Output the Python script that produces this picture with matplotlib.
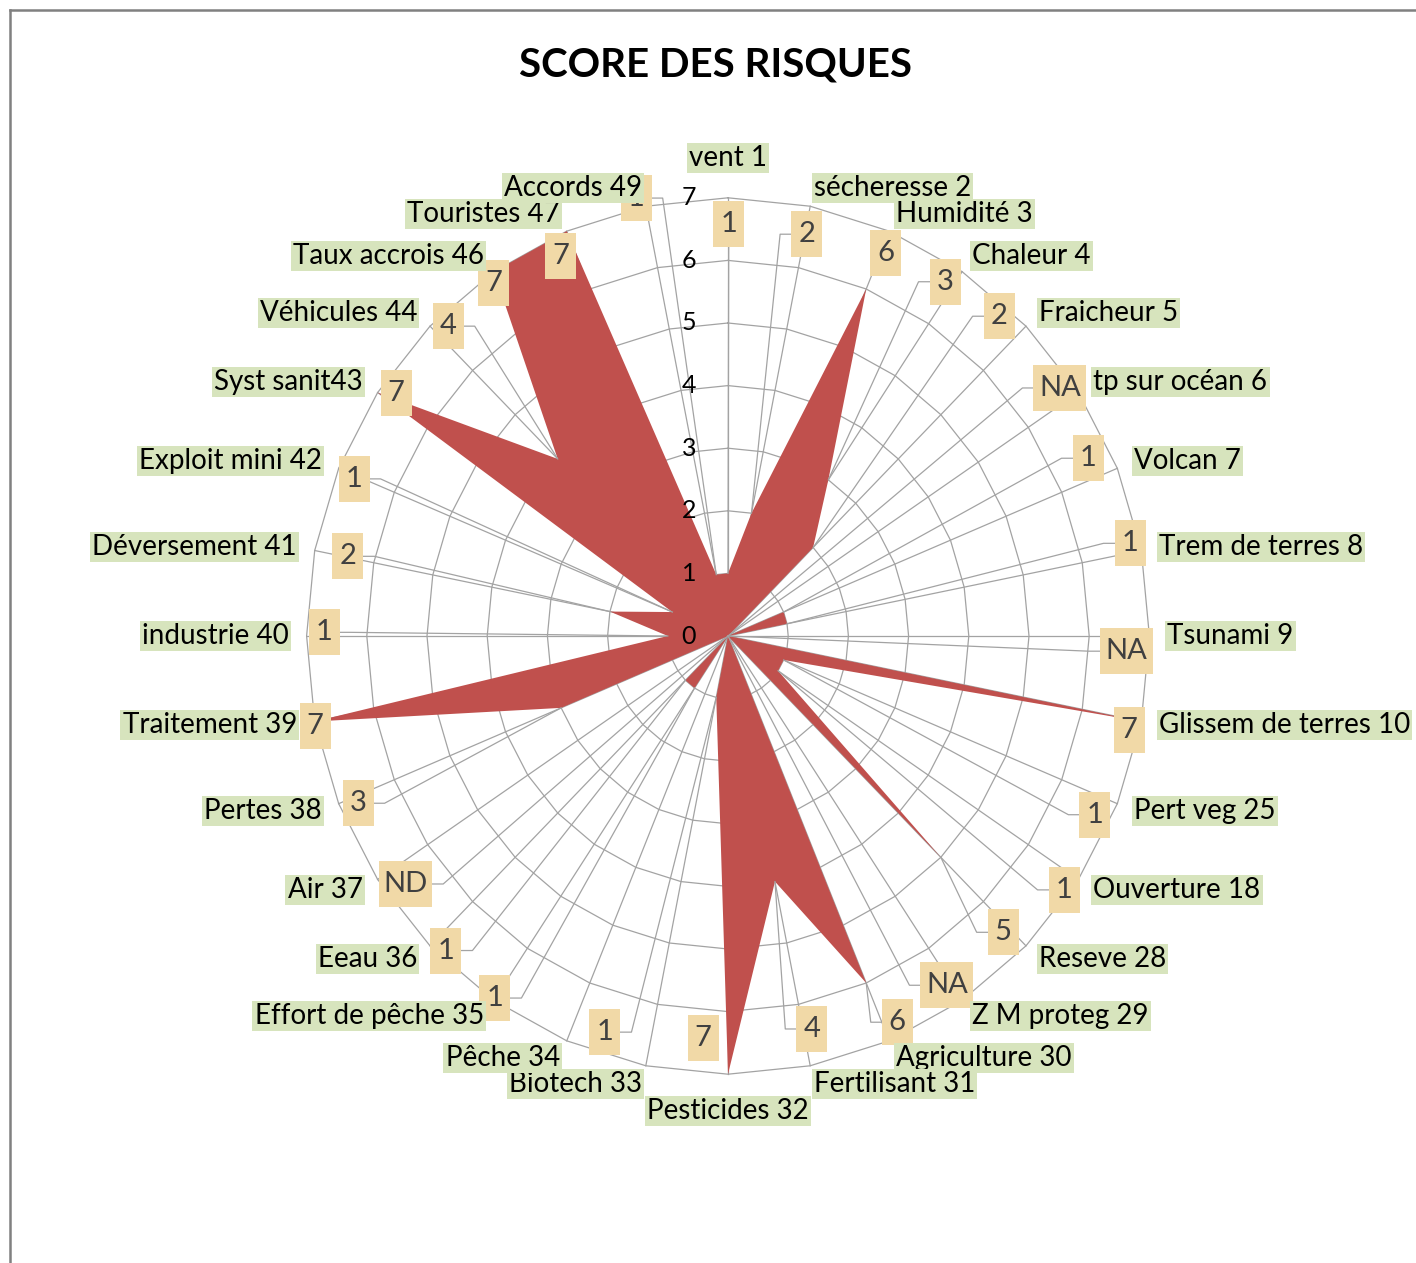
import numpy as np
import matplotlib
matplotlib.use("Agg")
import matplotlib.pyplot as plt
from matplotlib.lines import Line2D
from matplotlib.patches import Rectangle

plt.rcParams['font.family'] = ['Lato', 'DejaVu Sans']

# ---- data --------------------------------------------------------------
categories = ["vent 1", "sécheresse 2", "Humidité 3", "Chaleur 4", "Fraicheur 5",
              "tp sur océan 6", "Volcan 7", "Trem de terres 8", "Tsunami 9",
              "Glissem de terres 10", "Pert veg 25", "Ouverture 18", "Reseve 28",
              "Z M proteg 29", "Agriculture 30", "Fertilisant 31", "Pesticides 32",
              "Biotech 33", "Pêche 34", "Effort de pêche 35", "Eeau 36", "Air 37",
              "Pertes 38", "Traitement 39", "industrie 40", "Déversement 41",
              "Exploit mini 42", "Syst sanit43", "Véhicules 44", "Taux accrois 46",
              "Touristes 47", "Accords 49"]
scores = ["1", "2", "6", "3", "2", "NA", "1", "1", "NA", "7", "1", "1", "5", "NA",
          "6", "4", "7", "1", "", "1", "1", "ND", "3", "7", "1", "2", "1", "7",
          "4", "7", "7", "1"]
rings = [0, 1, 2, 3, 4, 5, 6, 7]
title = "SCORE DES RISQUES"

# ---- layout of the moved data labels (radius in score units, angle in deg)
lbl_r = [6.58, 6.55, 6.66, 6.71, 6.81, 6.79, 6.62, 6.84, 6.62, 6.83, 6.73, 6.90,
         6.58, 6.66, 6.78, 6.43, 6.43, 6.65, 6.70, 6.96, 6.87, 6.66, 6.70, 7.01,
         6.71, 6.44, 6.70, 6.74, 6.79, 6.85, 6.67, 7.16]
lbl_ang = [0.1, 11.5, 23.2, 32.5, 41.4, 54.3, 64.6, 77.5, 92.1, 102.7, 115.1, 126.0,
           136.0, 146.9, 155.5, 167.5, 183.7, 197.9, 202.5, 213.8, 223.0, 233.5,
           246.5, 258.1, 270.5, 281.4, 292.0, 305.1, 316.8, 325.4, 335.4, 347.7]

values = np.array([float(s) if s.isdigit() else 0.0 for s in scores])
n = len(categories)
theta = np.deg2rad(np.arange(n) * 360.0 / n)
sn, cs = np.sin(theta), np.cos(theta)

W, H = 1416, 1263
cx, cy = 728, 636          # chart centre in pixels
sx, sy = 60.2, 62.6        # pixels per score unit (chart is slightly stretched)

fig = plt.figure(figsize=(W / 100, H / 100), dpi=100)
ax = fig.add_axes([0, 0, 1, 1])
ax.set_xlim(-cx / sx, (W - cx) / sx)
ax.set_ylim(-(H - cy) / sy, cy / sy)
ax.axis('off')

grid_col = '#A3A3A3'
rmax = rings[-1]

# polygonal rings and spokes
for k in rings[1:]:
    ax.plot(np.append(k * sn, k * sn[0]), np.append(k * cs, k * cs[0]),
            color=grid_col, lw=0.9, zorder=1)
for s, c in zip(sn, cs):
    ax.plot([0, rmax * s], [0, rmax * c], color=grid_col, lw=0.9, zorder=1)

# the series
ax.fill(values * sn, values * cs, color='#C0504D', lw=0, zorder=2)

# value axis labels
for k in rings:
    ax.text(-0.65, k, str(k), ha='center', va='center', fontsize=18,
            color='black', zorder=6)

# data labels (tan boxes) with leader lines to their points
box_h = 46 / sy
elbow = 11 / sx
for i, t in enumerate(scores):
    if not t:
        continue
    a = np.deg2rad(lbl_ang[i])
    xc, yc = lbl_r[i] * np.sin(a), lbl_r[i] * np.cos(a)
    bw = (31 if len(t) == 1 else 53) / sx
    x0, x1, y0, y1 = xc - bw / 2, xc + bw / 2, yc - box_h / 2, yc + box_h / 2
    ax.add_patch(Rectangle((x0, y0), bw, box_h, fc='#F1D9A7', ec='none', zorder=4))
    ax.text(xc, yc, t, ha='center', va='center', fontsize=21, color='#404040',
            zorder=4.1)

    px, py = values[i] * sn[i], values[i] * cs[i]
    if np.hypot((px - xc) * sx, (py - yc) * sy) < 45:
        continue
    if px < x0:
        xs, ys = [x0, x0 - elbow, px], [yc, yc, py]
    elif px > x1:
        xs, ys = [x1, x1 + elbow, px], [yc, yc, py]
    elif py < y0:
        xs, ys = [xc, px], [y0, py]
    else:
        xs, ys = [xc, px], [y1, py]
    ax.plot(xs, ys, color=grid_col, lw=0.9, zorder=3)

# category labels
for i, name in enumerate(categories):
    deg = i * 360.0 / n
    if deg == 0:
        r, ha = 7.64, 'center'
    elif deg == 180:
        r, ha = 7.59, 'center'
    elif deg < 180:
        r, ha = 7.3, 'left'
    else:
        r, ha = 7.3, 'right'
    ax.text(r * sn[i], r * cs[i], name, ha=ha, va='center', fontsize=20,
            color='black', zorder=5 + i * 0.01,
            bbox=dict(boxstyle='square,pad=0.08', fc='#D7E4BD', ec='none'))

fig.text(716 / W, 1 - 77 / H, title, ha='center', va='baseline',
         fontsize=29, fontweight='bold', color='black')

# chart frame
fig.add_artist(Line2D([9.5 / W, 9.5 / W], [0, 1 - 10 / H], transform=fig.transFigure,
                      color='#808080', lw=1.8))
fig.add_artist(Line2D([9.5 / W, 1], [1 - 10 / H, 1 - 10 / H], transform=fig.transFigure,
                      color='#808080', lw=1.8))

fig.savefig("out.png", dpi=100)
